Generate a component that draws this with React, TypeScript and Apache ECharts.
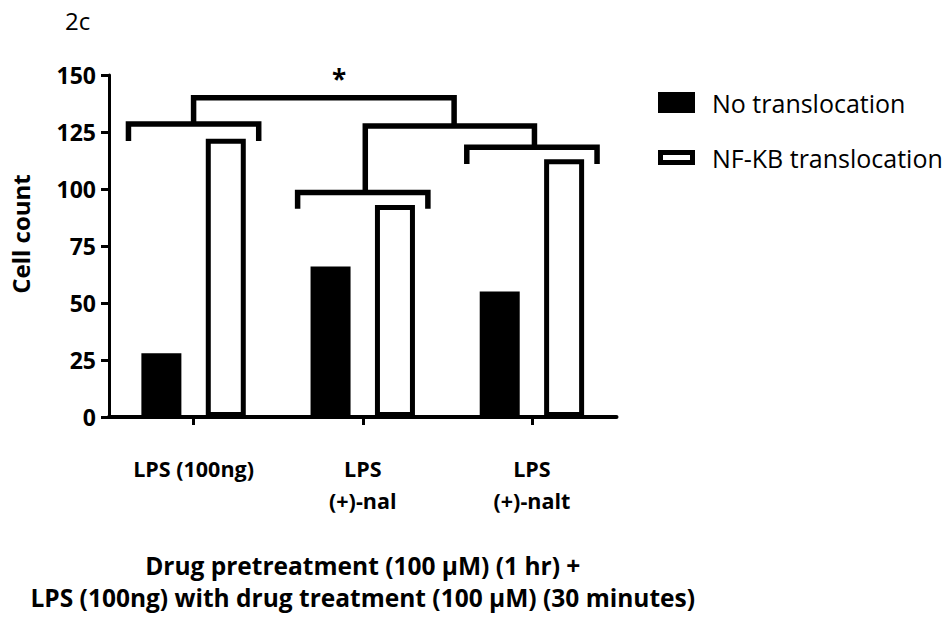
import React, { useEffect, useRef } from "react";
import * as echarts from "echarts";

// Groups along the x axis
const categories = ["LPS (100ng)", "LPS\n(+)-nal", "LPS\n(+)-nalt"];

// Cell counts per group
const noTranslocation = [28, 66, 55];
const nfkbTranslocation = [122, 93, 113];

const yTicks = { min: 0, max: 150, step: 25 };

// Significance brackets: x in category units (0 = first group centre),
// y = height of the horizontal bar, footL/footR = where each leg ends.
const brackets = [
  { x1: -0.385, x2: 0.385, y: 128.5, footL: 121, footR: 121 },
  { x1: 0.615, x2: 1.385, y: 98.5, footL: 91.3, footR: 91.3 },
  { x1: 1.615, x2: 2.385, y: 118.3, footL: 111, footR: 111 },
  { x1: 1.015, x2: 2.015, y: 127.6, footL: 98.5, footR: 118.3 },
  { x1: 0, x2: 1.54, y: 140, footL: 128.5, footR: 127.6 },
];

// Star over the outer comparison
const significance = { x: 0.86, y: 154, text: "*" };

const FONT = "'Open Sans', 'DejaVu Sans', sans-serif";

export default function App() {
  const ref = useRef<HTMLDivElement>(null);

  useEffect(() => {
    if (!ref.current) return;
    const chart = echarts.init(ref.current, null, { renderer: "svg" });

    const toPx = (api: any, x: number, y: number) => {
      const base = Math.round(x);
      const p = api.coord([base, y]);
      const band = api.size([1, 0])[0];
      return [p[0] + (x - base) * band, p[1]];
    };

    chart.setOption({
      animation: false,
      backgroundColor: "#fff",
      title: {
        text: "2c",
        left: 65,
        top: 8,
        padding: 0,
        textStyle: { fontFamily: FONT, fontSize: 24, fontWeight: "normal", color: "#000" },
      },
      legend: {
        orient: "vertical",
        left: 653,
        top: 83.5,
        itemWidth: 37,
        itemHeight: 21,
        itemGap: 27,
        selectedMode: false,
        textStyle: {
          fontFamily: FONT,
          fontSize: 25,
          lineHeight: 28,
          color: "#000",
          padding: [0, 0, 0, 12],
        },
        data: [
          { name: "No translocation", icon: "rect", itemStyle: { color: "#000", borderWidth: 0 } },
          {
            name: "NF-KB translocation",
            icon: "path://M0,0H37V15H0Z M5,5V10H32V5Z",
            itemStyle: { color: "#000", borderWidth: 0 },
          },
        ],
      },
      grid: { left: 101.5, top: 75, width: 515, height: 342, containLabel: false },
      xAxis: {
        type: "category",
        data: categories,
        name: "Drug pretreatment (100 \u03bcM) (1 hr) +\nLPS (100ng) with drug treatment (100 \u03bcM) (30 minutes)",
        nameLocation: "middle",
        nameGap: 132,
        nameTextStyle: {
          fontFamily: FONT,
          fontSize: 24.5,
          fontWeight: "bold",
          color: "#000",
          lineHeight: 32,
        },
        axisLine: { lineStyle: { color: "#000", width: 4 } },
        axisTick: { show: true, alignWithLabel: true, length: 8, lineStyle: { color: "#000", width: 3 } },
        axisLabel: {
          fontFamily: FONT,
          fontSize: 21.5,
          fontWeight: "bold",
          color: "#000",
          margin: 35,
          lineHeight: 32,
        },
      },
      yAxis: {
        type: "value",
        min: yTicks.min,
        max: yTicks.max,
        interval: yTicks.step,
        name: "Cell count",
        nameLocation: "middle",
        nameGap: 77,
        nameTextStyle: {
          fontFamily: FONT,
          fontSize: 24,
          fontWeight: "bold",
          color: "#000",
          padding: [0, 0, 0, 24],
        },
        axisLine: { show: true, lineStyle: { color: "#000", width: 3 } },
        axisTick: { show: true, length: 8, lineStyle: { color: "#000", width: 3 } },
        splitLine: { show: false },
        axisLabel: {
          fontFamily: FONT,
          fontSize: 23,
          fontWeight: "bold",
          color: "#000",
          margin: 13,
        },
      },
      series: [
        {
          name: "No translocation",
          type: "bar",
          data: noTranslocation,
          barWidth: 40,
          barGap: "61%",
          itemStyle: { color: "#000", borderColor: "#000", borderWidth: 2 },
        },
        {
          name: "NF-KB translocation",
          type: "bar",
          data: nfkbTranslocation,
          barWidth: 40,
          itemStyle: { color: "#fff", borderColor: "#000", borderWidth: 5 },
        },
        {
          type: "custom",
          silent: true,
          z: 5,
          data: brackets.map((b) => [Math.round(b.x1), b.y]),
          renderItem: (params: any, api: any) => {
            const b = brackets[params.dataIndex];
            const pts = [
              toPx(api, b.x1, b.footL),
              toPx(api, b.x1, b.y),
              toPx(api, b.x2, b.y),
              toPx(api, b.x2, b.footR),
            ];
            const children: any[] = [
              {
                type: "polyline",
                shape: { points: pts },
                style: { fill: "none", stroke: "#000", lineWidth: 5.5, lineJoin: "miter", lineCap: "butt" },
              },
            ];
            if (params.dataIndex === brackets.length - 1) {
              const s = toPx(api, significance.x, significance.y);
              children.push({
                type: "text",
                x: s[0],
                y: s[1],
                style: {
                  text: significance.text,
                  fontFamily: FONT,
                  fontSize: 26,
                  fontWeight: "bold",
                  fill: "#000",
                  align: "center",
                  verticalAlign: "top",
                },
              });
            }
            return { type: "group", children };
          },
        },
      ],
    });

    return () => chart.dispose();
  }, []);

  return (
    <div
      ref={ref}
      style={{ position: "absolute", left: 0, top: 0, width: 951, height: 619, background: "#fff" }}
    />
  );
}
